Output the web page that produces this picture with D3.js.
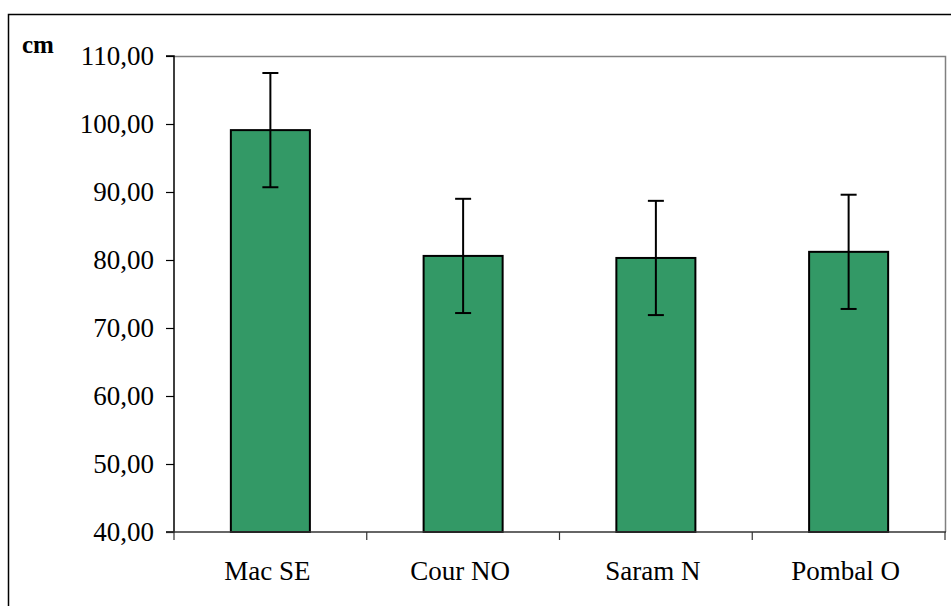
<!DOCTYPE html>
<html>
<head>
<meta charset="utf-8">
<script src="https://cdn.jsdelivr.net/npm/d3@7"></script>
<style>
  html, body { margin: 0; padding: 0; background: #fff; }
  svg { display: block; }
</style>
</head>
<body>
<svg id="chart" width="951" height="606"></svg>
<script>
const categories = ["Mac SE", "Cour NO", "Saram N", "Pombal O"];
const means = [99.1, 80.6, 80.3, 81.2];
const errors = [8.4, 8.4, 8.4, 8.4];
const yTicks = [40, 50, 60, 70, 80, 90, 100, 110];
const yUnit = "cm";

const svg = d3.select("#chart");
const W = 951, H = 606;
const plot = { left: 174, right: 945, top: 56, bottom: 532 };
const font = "'Liberation Serif', 'Times New Roman', serif";

// outer frame
svg.append("rect")
  .attr("x", 8.5).attr("y", 14.5)
  .attr("width", W + 10).attr("height", H + 10)
  .attr("fill", "none").attr("stroke", "#000").attr("stroke-width", 1.5);

const x = d3.scaleBand().domain(categories).range([plot.left, plot.right]).paddingInner(0.59).paddingOuter(0.295);
const xBand = d3.scaleBand().domain(categories).range([plot.left, plot.right]);
const y = d3.scaleLinear().domain([40, 110]).range([plot.bottom, plot.top]);

// plot area frame (grey top & right)
svg.append("path")
  .attr("d", `M${plot.left},${plot.top + 0.5}H${plot.right + 0.5}V${plot.bottom}`)
  .attr("fill", "none").attr("stroke", "#808080").attr("stroke-width", 1.5);

// bars
svg.append("g").selectAll("rect").data(means).join("rect")
  .attr("x", (d, i) => x(categories[i]))
  .attr("y", d => y(d))
  .attr("width", x.bandwidth())
  .attr("height", d => y(40) - y(d))
  .attr("fill", "#339966")
  .attr("stroke", "#000").attr("stroke-width", 2);

// error bars
const eg = svg.append("g").attr("stroke", "#000").attr("stroke-width", 2);
means.forEach((m, i) => {
  const cx = x(categories[i]) + x.bandwidth() / 2;
  const top = y(m + errors[i]), bot = y(m - errors[i]);
  eg.append("line").attr("x1", cx).attr("x2", cx).attr("y1", top).attr("y2", bot);
  eg.append("line").attr("x1", cx - 8).attr("x2", cx + 8).attr("y1", top).attr("y2", top);
  eg.append("line").attr("x1", cx - 8).attr("x2", cx + 8).attr("y1", bot).attr("y2", bot);
});

// y axis
const yAxis = d3.axisLeft(y).tickValues(yTicks).tickSize(8).tickPadding(12)
  .tickFormat(d => d3.format(".2f")(d).replace(".", ","));
const yg = svg.append("g").attr("transform", `translate(${plot.left},0)`).call(yAxis);
yg.select(".domain").attr("stroke", "#000").attr("stroke-width", 1.5).attr("d", `M-8,${plot.top}H0V${plot.bottom}H-8`);
yg.selectAll(".tick line").attr("stroke", "#000").attr("stroke-width", 1.2);
yg.selectAll(".tick text").attr("font-family", font).attr("font-size", 27).attr("fill", "#000").attr("dy", "0.33em");

// x axis line and category ticks at band boundaries
const xg = svg.append("g");
xg.append("line").attr("x1", plot.left - 8).attr("x2", plot.right + 1)
  .attr("y1", plot.bottom).attr("y2", plot.bottom)
  .attr("stroke", "#333").attr("stroke-width", 1.5);
const bounds = categories.map(c => xBand(c)).concat([plot.right]);
xg.selectAll("line.tk").data(bounds).join("line").attr("class", "tk")
  .attr("x1", d => d).attr("x2", d => d)
  .attr("y1", plot.bottom).attr("y2", plot.bottom + 8)
  .attr("stroke", "#333").attr("stroke-width", 1.2);
xg.selectAll("text").data(categories).join("text")
  .attr("x", d => xBand(d) + xBand.bandwidth() / 2 - 3)
  .attr("y", 580)
  .attr("text-anchor", "middle")
  .attr("font-family", font).attr("font-size", 27)
  .attr("fill", "#000")
  .text(d => d);

// unit label
svg.append("text").attr("x", 22).attr("y", 53)
  .attr("font-family", font).attr("font-size", 25).attr("font-weight", "bold")
  .attr("fill", "#000").text(yUnit);
</script>
</body>
</html>
